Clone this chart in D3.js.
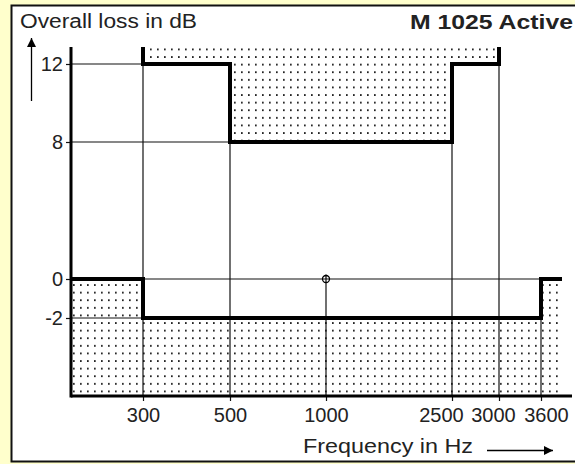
<!DOCTYPE html>
<html>
<head>
<meta charset="utf-8">
<script src="https://cdn.jsdelivr.net/npm/d3@7"></script>
<style>
  html, body { margin: 0; padding: 0; background: #ffffcc; }
  svg { display: block; }
  text { font-family: "Liberation Sans", Arial, sans-serif; fill: #222; }
</style>
</head>
<body>
<svg id="chart" width="575" height="464"></svg>
<script>
// tick values
const freqTicks = [300, 500, 1000, 2500, 3000, 3600];
const lossTicks = [12, 8, 0, -2];

// tolerance mask, upper limit (max loss), step after
const upperFreq = [300, 500, 2500, 3000];
const upperLoss = [12, 8, 12, 12];

// tolerance mask, lower limit (min loss), step after
const lowerFreq = [0, 300, 3600, 3800];
const lowerLoss = [0, -2, 0, 0];

// reference point
const refFreq = 1000;
const refLoss = 0;

const lossTop = 13;     // top of the upper hatched band
const lossBottom = -6;  // floor of the chart

const svg = d3.select("#chart");

// white panel
svg.append("rect")
  .attr("x", 11.5).attr("y", 5.5)
  .attr("width", 600).attr("height", 456)
  .attr("fill", "#fff")
  .attr("stroke", "#111")
  .attr("stroke-width", 2);

// schematic (non linear) scales, as in the drawing
const x = d3.scaleLinear()
  .domain([0, 300, 500, 1000, 2500, 3000, 3600, 3800, 4000])
  .range([71, 143, 230, 326, 452, 499, 541, 562, 572]);
const y = d3.scaleLinear()
  .domain([lossBottom, -2, 0, 8, 12, lossTop])
  .range([396, 318, 279, 142, 64, 47]);

// dot pattern
const defs = svg.append("defs");
const pat = defs.append("pattern")
  .attr("id", "dots")
  .attr("patternUnits", "userSpaceOnUse")
  .attr("width", 7).attr("height", 7.6);
pat.append("rect")
  .attr("x", 3).attr("y", 3)
  .attr("width", 1.7).attr("height", 1.7)
  .attr("fill", "#111");

const upper = upperFreq.map((f, i) => ({ f: f, v: upperLoss[i] }));
const lower = lowerFreq.map((f, i) => ({ f: f, v: lowerLoss[i] }));

// shaded areas
svg.append("path")
  .datum(upper)
  .attr("fill", "url(#dots)")
  .attr("d", d3.area()
    .curve(d3.curveStepAfter)
    .x(d => x(d.f))
    .y0(y(lossTop))
    .y1(d => y(d.v)));

svg.append("path")
  .datum(lower)
  .attr("fill", "url(#dots)")
  .attr("d", d3.area()
    .curve(d3.curveStepAfter)
    .x(d => x(d.f))
    .y0(y(lossBottom))
    .y1(d => y(d.v)));

// thin grid lines (value coordinates)
const hGrid = [
  { v: 12, f0: 0, f1: 300 },
  { v: 8, f0: 0, f1: 500 },
  { v: 0, f0: 300, f1: 3600 },
  { v: -2, f0: 0, f1: 300 }
];
const vGrid = [
  { f: 300, v: lossTop },
  { f: 500, v: 8 },
  { f: 1000, v: 0 },
  { f: 2500, v: 8 },
  { f: 3000, v: lossTop },
  { f: 3600, v: -2 }
];

const grid = svg.append("g").attr("stroke", "#111").attr("stroke-width", 1.2);
grid.selectAll(".h")
  .data(hGrid)
  .enter().append("line")
  .attr("x1", d => x(d.f0)).attr("x2", d => x(d.f1))
  .attr("y1", d => y(d.v)).attr("y2", d => y(d.v));
grid.selectAll(".v")
  .data(vGrid)
  .enter().append("line")
  .attr("x1", d => x(d.f)).attr("x2", d => x(d.f))
  .attr("y1", d => y(d.v)).attr("y2", y(lossBottom));

// axes
const yAxis = svg.append("g")
  .attr("transform", "translate(" + x(0) + ",0)")
  .call(d3.axisLeft(y).tickValues(lossTicks).tickSize(5).tickPadding(3)
    .tickFormat(d => String(d)));
const xAxis = svg.append("g")
  .attr("transform", "translate(0," + y(lossBottom) + ")")
  .call(d3.axisBottom(x).tickValues(freqTicks).tickSize(5).tickPadding(7)
    .tickFormat(d => String(d)));

[yAxis, xAxis].forEach(a => {
  a.select(".domain").remove();
  a.selectAll("line").attr("stroke", "#111").attr("stroke-width", 1.2);
  a.selectAll("text")
    .style("font-family", "'Liberation Sans', Arial, sans-serif")
    .style("font-size", "20px")
    .attr("fill", "#222");
});

// crowded labels at the right end are nudged like the original
const nudge = { 2500: -11, 3000: -6, 3600: 5 };
xAxis.selectAll(".tick text").attr("dx", d => nudge[d] || 0);

// axis lines (thick)
svg.append("line")
  .attr("x1", x(0)).attr("x2", x(0))
  .attr("y1", y(lossTop)).attr("y2", y(lossBottom) + 1.5)
  .attr("stroke", "#000").attr("stroke-width", 3);
svg.append("line")
  .attr("x1", x(0)).attr("x2", x(4000))
  .attr("y1", y(lossBottom)).attr("y2", y(lossBottom))
  .attr("stroke", "#000").attr("stroke-width", 3);

// mask lines
const upperPts = [{ f: 300, v: lossTop }].concat(upper, [{ f: 3000, v: lossTop }]);
svg.append("path")
  .datum(upperPts)
  .attr("fill", "none")
  .attr("stroke", "#000")
  .attr("stroke-width", 4)
  .attr("d", d3.line().curve(d3.curveStepAfter).x(d => x(d.f)).y(d => y(d.v)));

svg.append("path")
  .datum(lower)
  .attr("fill", "none")
  .attr("stroke", "#000")
  .attr("stroke-width", 4)
  .attr("d", d3.line().curve(d3.curveStepAfter).x(d => x(d.f)).y(d => y(d.v)));

// reference point
svg.append("circle")
  .attr("cx", x(refFreq)).attr("cy", y(refLoss))
  .attr("r", 3.5)
  .attr("fill", "none")
  .attr("stroke", "#000")
  .attr("stroke-width", 1.3);
svg.append("line")
  .attr("x1", x(refFreq)).attr("x2", x(refFreq))
  .attr("y1", y(refLoss) - 4.5).attr("y2", y(refLoss))
  .attr("stroke", "#000").attr("stroke-width", 1.2);

// arrows
defs.append("marker")
  .attr("id", "arrow")
  .attr("viewBox", "0 0 10 10")
  .attr("refX", 10).attr("refY", 5)
  .attr("markerUnits", "userSpaceOnUse")
  .attr("markerWidth", 13).attr("markerHeight", 9)
  .attr("orient", "auto")
  .append("path")
  .attr("d", "M0,0L10,5L0,10z")
  .attr("fill", "#000");

svg.append("line")
  .attr("x1", 31.5).attr("x2", 31.5)
  .attr("y1", 101).attr("y2", 38)
  .attr("stroke", "#000").attr("stroke-width", 1.3)
  .attr("marker-end", "url(#arrow)");
svg.append("line")
  .attr("x1", 487).attr("x2", 553)
  .attr("y1", 450.5).attr("y2", 450.5)
  .attr("stroke", "#000").attr("stroke-width", 1.3)
  .attr("marker-end", "url(#arrow)");

// titles
svg.append("text")
  .attr("x", 20).attr("y", 28)
  .attr("textLength", 177)
  .attr("lengthAdjust", "spacingAndGlyphs")
  .style("font-size", "20px")
  .text("Overall loss in dB");

svg.append("text")
  .attr("x", 410).attr("y", 29)
  .attr("textLength", 163)
  .attr("lengthAdjust", "spacingAndGlyphs")
  .style("font-size", "20px")
  .style("font-weight", "bold")
  .attr("fill", "#000")
  .text("M 1025 Active");

svg.append("text")
  .attr("x", 303).attr("y", 453)
  .attr("textLength", 170)
  .attr("lengthAdjust", "spacingAndGlyphs")
  .style("font-size", "20px")
  .text("Frequency in Hz");
</script>
</body>
</html>
